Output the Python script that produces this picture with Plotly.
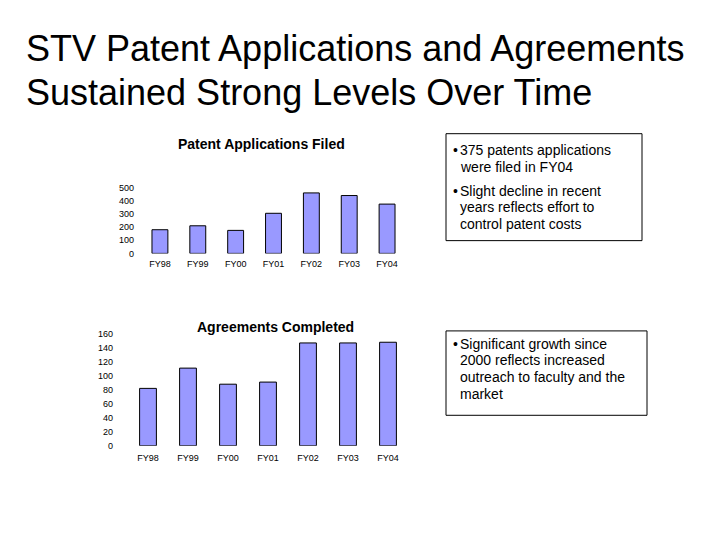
import plotly.graph_objects as go

# ---- data ----
years = ["FY98", "FY99", "FY00", "FY01", "FY02", "FY03", "FY04"]
patents_filed = [180, 210, 175, 305, 460, 440, 375]
agreements_completed = [82, 111, 88, 91, 147, 147, 148]
patent_ticks = [0, 100, 200, 300, 400, 500]
agreement_ticks = [0, 20, 40, 60, 80, 100, 120, 140, 160]

title_lines = ["STV Patent Applications and Agreements",
               "Sustained Strong Levels Over Time"]
chart1_title = "Patent Applications Filed"
chart2_title = "Agreements Completed"
box1_bullets = [["375 patents applications", "were filed in FY04"],
                ["Slight decline in recent", "years reflects effort to", "control patent costs"]]
box2_bullets = [["Significant growth since", "2000 reflects increased",
                 "outreach to faculty and the", "market"]]

# page body has an 8px margin: the figure is sized to fill the rest of the window
OFF = 8
W, H = 720 - OFF, 540 - OFF
FONT = "Arial, Liberation Sans, sans-serif"


def px(x):
    return (x - OFF) / W


def py(y):
    return 1 - (y - OFF) / H


bar_style = dict(color="#9999FF", line=dict(color="#000000", width=1))

fig = go.Figure()
fig.add_trace(go.Bar(x=years, y=patents_filed, xaxis="x", yaxis="y",
                     marker=bar_style, width=0.42, showlegend=False))
fig.add_trace(go.Bar(x=years, y=agreements_completed, xaxis="x2", yaxis="y2",
                     marker=bar_style, width=0.42, showlegend=False))

tickfont = dict(family=FONT, size=9, color="#000000")
common_axis = dict(showgrid=False, zeroline=False, showline=False, ticks="",
                   tickfont=tickfont, fixedrange=True)

annotations = []
# Slide title
for i, line in enumerate(title_lines):
    annotations.append(dict(text=line, x=px(24), y=py(44 + 45 * i), xref="paper", yref="paper",
                            xanchor="left", yanchor="middle", showarrow=False,
                            font=dict(family=FONT, size=36, color="#000000")))
# Chart titles
annotations.append(dict(text="<b>" + chart1_title + "</b>", x=px(261), y=py(141.5),
                        xref="paper", yref="paper", xanchor="center", yanchor="middle",
                        showarrow=False, font=dict(family=FONT, size=14, color="#000000")))
annotations.append(dict(text="<b>" + chart2_title + "</b>", x=px(275), y=py(328),
                        xref="paper", yref="paper", xanchor="center", yanchor="middle",
                        showarrow=False, font=dict(family=FONT, size=14, color="#000000")))


def add_bullets(bullets, y_start, bullet_x, text_x):
    y = y_start
    for bullet in bullets:
        annotations.append(dict(text="•", x=px(bullet_x), y=py(y), xref="paper", yref="paper",
                                xanchor="left", yanchor="middle", showarrow=False,
                                font=dict(family=FONT, size=14, color="#000000")))
        for line in bullet:
            annotations.append(dict(text=line, x=px(text_x), y=py(y), xref="paper", yref="paper",
                                    xanchor="left", yanchor="middle", showarrow=False,
                                    font=dict(family=FONT, size=14, color="#000000")))
            y += 17
        y += 7


add_bullets(box1_bullets, 148, 451, 458)
add_bullets(box2_bullets, 345, 451, 458)

shapes = [
    dict(type="rect", xref="paper", yref="paper", x0=px(446), x1=px(642), y0=py(240), y1=py(131),
         line=dict(color="#000000", width=1)),
    dict(type="rect", xref="paper", yref="paper", x0=px(446), x1=px(647), y0=py(418), y1=py(332),
         line=dict(color="#000000", width=1)),
]

fig.update_layout(
    width=W, height=H,
    margin=dict(l=0, r=0, t=0, b=0),
    paper_bgcolor="#FFFFFF", plot_bgcolor="#FFFFFF",
    font=dict(family=FONT, color="#000000"),
    xaxis=dict(domain=[px(141), px(406)], anchor="y", ticklabelstandoff=4, **common_axis),
    yaxis=dict(domain=[py(253), py(186)], anchor="x", range=[0, 500], tickvals=patent_ticks,
               ticklabelstandoff=6, **common_axis),
    xaxis2=dict(domain=[px(128), px(408)], anchor="y2", ticklabelstandoff=5, **common_axis),
    yaxis2=dict(domain=[py(449), py(335)], anchor="x2", range=[0, 160], tickvals=agreement_ticks,
                ticklabelstandoff=14, **common_axis),
    annotations=annotations,
    shapes=shapes,
)

fig.write_html("out.html")
